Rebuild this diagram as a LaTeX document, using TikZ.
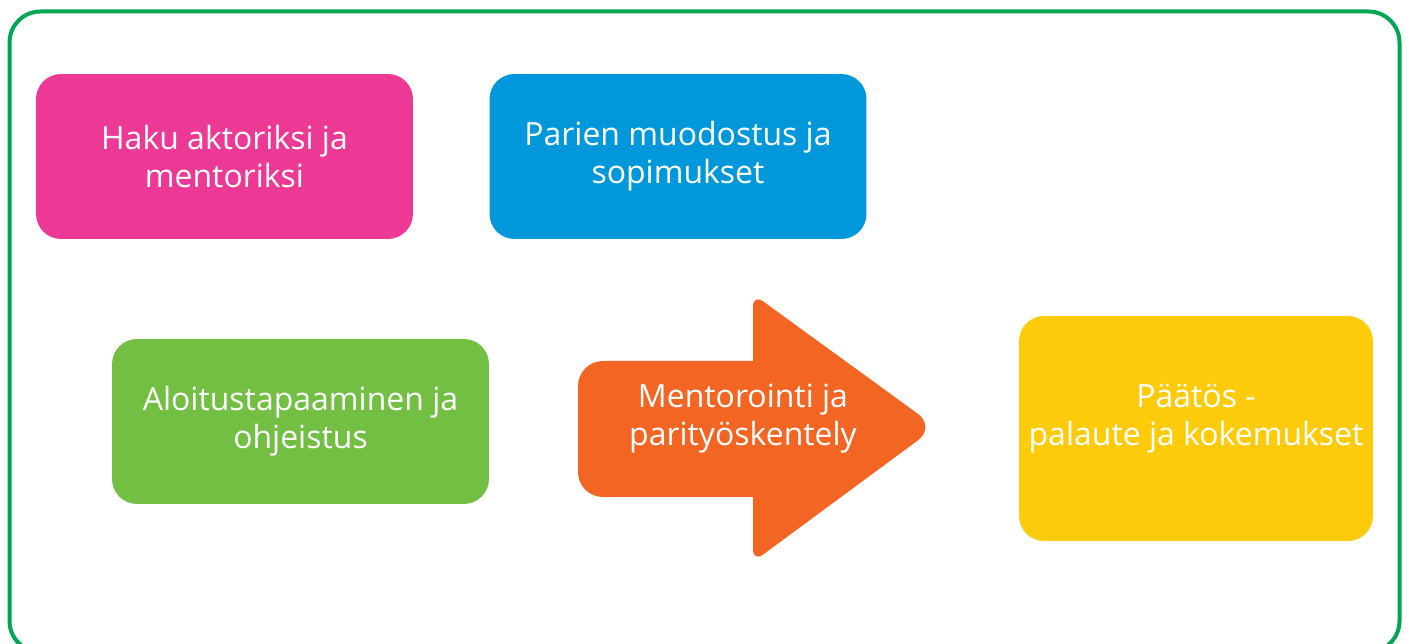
\documentclass[tikz,border=0pt]{standalone}
\usepackage{fontspec}
\setmainfont{Open Sans}
\usetikzlibrary{positioning}

\definecolor{kehys}{HTML}{00A651}
\definecolor{pinkki}{HTML}{EC3996}
\definecolor{sininen}{HTML}{0098DA}
\definecolor{vihrea}{HTML}{72BF44}
\definecolor{oranssi}{HTML}{F26522}
\definecolor{keltainen}{HTML}{FECB0A}

\begin{document}
\begin{tikzpicture}[
    x=0.02cm, y=-0.02cm,
    label text/.style={text=white, align=center, font=\fontsize{18.2}{21.6}\selectfont},
    phase/.style={rectangle, inner sep=0pt, rounded corners=0.5cm, minimum width=7.54cm, minimum height=3.3cm, label text}
]
\useasboundingbox (0,0) rectangle (1407,644);

% Frame
\draw[kehys, line width=4*0.02cm, rounded corners=0.62cm] (9.5,11.5) rectangle (1399.5,652);

% Haku
\node[phase, fill=pinkki] (haku) at (224.5,156.5) {Haku aktoriksi ja\\mentoriksi};

% Parien muodostus
\node[phase, fill=sininen] (parit) at (678,156.5) {Parien muodostus ja\\sopimukset};

% Aloitustapaaminen
\node[phase, fill=vihrea] (aloitus) at (300.5,421.5) {Aloitustapaaminen ja\\ohjeistus};

% Mentorointi arrow
\fill[oranssi] (753,361) [rounded corners=0.25cm] -- (753,294) [rounded corners=0.45cm] -- (936,427) [rounded corners=0.25cm] -- (753,562) [sharp corners] -- (753,497) [rounded corners=0.5cm] -- (578,497) -- (578,361) [sharp corners] -- cycle;
\node[label text] (mentorointi) at (743,419) {Mentorointi ja\\parityöskentely};

% Paatos
\node[phase, fill=keltainen, minimum width=7.08cm, minimum height=4.5cm] (paatos) at (1196,428.5) {};
\node[label text] (paatosteksti) at (1196,419) {Päätös -\\palaute ja kokemukset};

\end{tikzpicture}
\end{document}
